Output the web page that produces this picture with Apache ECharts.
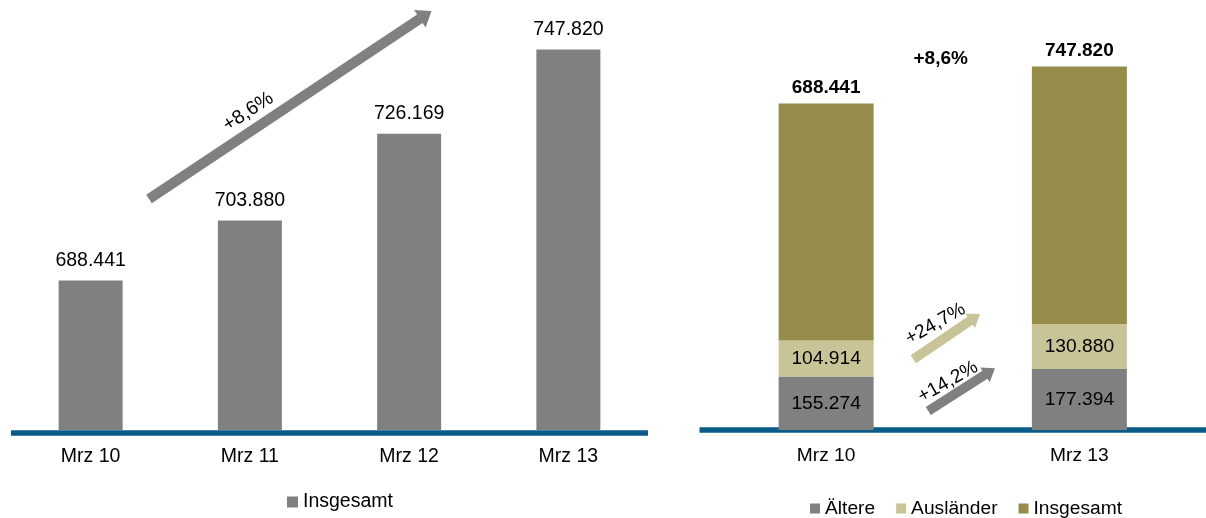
<!DOCTYPE html>
<html>
<head>
<meta charset="utf-8">
<script src="https://cdn.jsdelivr.net/npm/echarts@6/dist/echarts.min.js"></script>
<style>html,body{margin:0;padding:0;background:#fff;}#c{width:1206px;height:518px;}</style>
</head>
<body>
<div id="c"></div>
<script>
// ---- data ----
const categoriesLeft = ['Mrz 10', 'Mrz 11', 'Mrz 12', 'Mrz 13'];
const insgesamtLeft = [688441, 703880, 726169, 747820];
const categoriesRight = ['Mrz 10', 'Mrz 13'];
const aeltere = [155274, 177394];
const auslaender = [104914, 130880];
const insgesamtRight = [688441, 747820];
const legendLeft = ['Insgesamt'];
const legendRight = ['Ältere', 'Ausländer', 'Insgesamt'];
const changeTotal = '+8,6%';
const changeAuslaender = '+24,7%';
const changeAeltere = '+14,2%';

// ---- styles ----
const FONT = '"Liberation Sans", Arial, sans-serif';
const GREY = '#808080', KHAKI = '#C9C497', OLIVE = '#948C48', BLUE = '#0A5A8A';
const fmt = v => String(v).replace(/\B(?=(\d{3})+(?!\d))/g, '.');

function arrow(x0, y0, x1, y1, w, hw, hl) {
  const dx = x1 - x0, dy = y1 - y0, L = Math.hypot(dx, dy);
  const ux = dx / L, uy = dy / L, nx = -uy, ny = ux;
  const bx = x1 - ux * hl, by = y1 - uy * hl;
  return [[x0 + nx * w / 2, y0 + ny * w / 2], [bx + nx * w / 2, by + ny * w / 2],
          [bx + nx * hw / 2, by + ny * hw / 2], [x1, y1],
          [bx - nx * hw / 2, by - ny * hw / 2], [bx - nx * w / 2, by - ny * w / 2],
          [x0 - nx * w / 2, y0 - ny * w / 2]];
}
const deg = d => d * Math.PI / 180;

const chart = echarts.init(document.getElementById('c'), null, {renderer: 'canvas'});
const axisCommon = (idx, cats, fs) => ({
  type: 'category', gridIndex: idx, data: cats, offset: 2.5,
  axisTick: {show: false},
  axisLine: {show: true, lineStyle: {color: BLUE, width: 5.5, cap: 'butt'}},
  axisLabel: {color: '#000', fontSize: fs, fontFamily: FONT, margin: 14}
});

chart.setOption({
  animation: false,
  textStyle: {fontFamily: FONT},
  grid: [
    {left: 11, right: 558, top: 41, bottom: 88},
    {left: 699.5, width: 510, top: 17, bottom: 88}
  ],
  xAxis: [axisCommon(0, categoriesLeft, 19.5), axisCommon(1, categoriesRight, 19.2)],
  yAxis: [
    {type: 'value', gridIndex: 0, min: 650000, max: 750000, show: false},
    {type: 'value', gridIndex: 1, min: 0, max: 1200000, show: false}
  ],
  legend: [
    {data: legendLeft.map(n => ({name: n, itemStyle: {color: GREY}})), left: 282, top: 487,
     icon: 'rect', itemWidth: 11, itemHeight: 11,
     textStyle: {fontSize: 19.5, fontFamily: FONT, color: '#000'}},
    {data: legendRight.map((n, i) => ({name: n, itemStyle: {color: [GREY, KHAKI, OLIVE][i]}})),
     left: 805, top: 494, icon: 'rect', itemWidth: 10, itemHeight: 10, itemGap: 21,
     textStyle: {fontSize: 19.2, fontFamily: FONT, color: '#000'}}
  ],
  series: [
    {name: 'Insgesamt', type: 'bar', xAxisIndex: 0, yAxisIndex: 0, data: insgesamtLeft,
     barWidth: 64, itemStyle: {color: GREY},
     label: {show: true, position: 'top', distance: 10, color: '#000', fontSize: 19.5,
             fontFamily: FONT, formatter: p => fmt(p.value)}},
    {name: 'Ältere', type: 'bar', stack: 'r', xAxisIndex: 1, yAxisIndex: 1, data: aeltere,
     barWidth: 95, itemStyle: {color: GREY},
     label: {show: true, position: 'inside', color: '#000', fontSize: 19.2,
             fontFamily: FONT, formatter: p => fmt(p.value)}},
    {name: 'Ausländer', type: 'bar', stack: 'r', xAxisIndex: 1, yAxisIndex: 1, data: auslaender,
     barWidth: 95, itemStyle: {color: KHAKI},
     label: {show: true, position: 'inside', color: '#000', fontSize: 19.2,
             fontFamily: FONT, formatter: p => fmt(p.value)}},
    {name: 'Insgesamt', type: 'bar', stack: 'r', xAxisIndex: 1, yAxisIndex: 1, data: insgesamtRight,
     barWidth: 95, itemStyle: {color: OLIVE},
     label: {show: true, position: 'top', distance: 6, color: '#000', fontSize: 19,
             fontWeight: 'bold', fontFamily: FONT, formatter: p => fmt(p.value)}}
  ],
  graphic: [
    {type: 'polygon', shape: {points: arrow(149, 199, 431.5, 11, 10, 21, 14)}, style: {fill: GREY}},
    {type: 'text', x: 248.3, y: 111.7, rotation: deg(33), style: {text: changeTotal,
      font: '19.5px ' + FONT, fill: '#000', align: 'center', verticalAlign: 'middle'}},
    {type: 'polygon', shape: {points: arrow(913.3, 359.2, 980, 314, 9.5, 17.5, 12)}, style: {fill: KHAKI}},
    {type: 'polygon', shape: {points: arrow(928.3, 411, 995, 368.3, 9.5, 17.5, 12)}, style: {fill: GREY}},
    {type: 'text', x: 935.5, y: 324, rotation: deg(29.5), style: {text: changeAuslaender,
      font: '19.2px ' + FONT, fill: '#000', align: 'center', verticalAlign: 'middle'}},
    {type: 'text', x: 948, y: 382, rotation: deg(29.5), style: {text: changeAeltere,
      font: '19.2px ' + FONT, fill: '#000', align: 'center', verticalAlign: 'middle'}},
    {type: 'text', x: 940.7, y: 58.3, style: {text: changeTotal,
      font: 'bold 19px ' + FONT, fill: '#000', align: 'center', verticalAlign: 'middle'}}
  ]
});
</script>
</body>
</html>
